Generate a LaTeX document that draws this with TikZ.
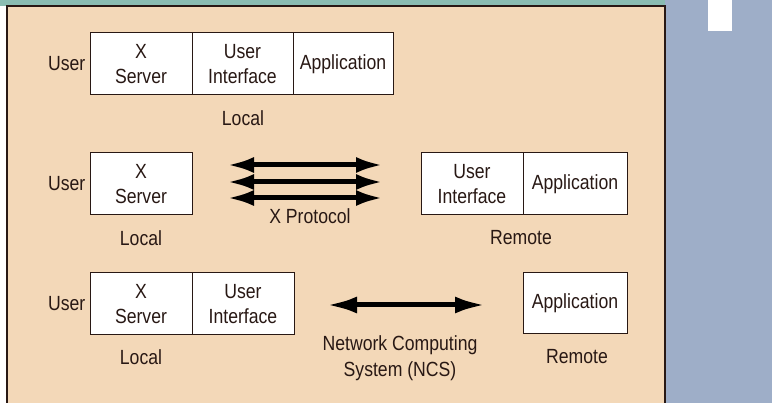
\documentclass[tikz,border=0pt]{standalone}
\usepackage{fontspec}
\setmainfont[FakeStretch=0.86]{Liberation Sans}
\usetikzlibrary{arrows.meta}
\definecolor{peche}{RGB}{243,216,184}
\definecolor{bleu}{RGB}{158,174,200}
\definecolor{vert}{RGB}{138,188,178}
\definecolor{encre}{RGB}{40,24,20}
\begin{document}
\begin{tikzpicture}[x=1pt,y=-1pt,font=\fontsize{20.5}{25.5}\selectfont,text=encre]
        \useasboundingbox (0,0) rectangle (772,403);
        % fond
        \fill[vert] (0,0) rectangle (665,6);
        \fill[bleu] (665,0) rectangle (772,403);
        \fill[white] (708,0) rectangle (732,31);
        \fill[peche] (7,6) rectangle (665,403);
        \draw[encre,line width=1.2pt] (7,403) -- (7,6) -- (665,6) -- (665,403);
        \tikzset{boite/.style={draw=encre,fill=white,line width=1pt,align=center,
                minimum height=62pt,inner sep=0pt}}
        \tikzset{grosfleche/.style={{Latex[length=27pt,width=16pt]}-{Latex[length=27pt,width=16pt]},
                line width=5pt,black}}
        % local
        \node[boite,minimum width=102pt] (XS1) at (141,64) {X\\Server};
        \node[boite,minimum width=101pt] (UI1) at (242.5,64) {User\\Interface};
        \node[boite,minimum width=100pt] (A1) at (343,64) {Application};
        \node[anchor=east,inner sep=4pt] (U1) at (XS1.west) {User};
        \node (L1) at (243,118) {Local};
        % X protocol
        \node[boite,minimum width=102pt] (XS2) at (141,184) {X\\Server};
        \node[anchor=east,inner sep=4pt] (U2) at (XS2.west) {User};
        \node (L2) at (141,238) {Local};
        \node[boite,minimum width=102pt] (UI2) at (472,184) {User\\Interface};
        \node[boite,minimum width=104pt] (A2) at (575,184) {Application};
        \node (R2) at (521,238) {Remote};
        \coordinate (P1g) at (227,165);
        \coordinate (P1d) at (383,165);
        \coordinate (P2g) at (227,182);
        \coordinate (P2d) at (383,182);
        \coordinate (P3g) at (227,198);
        \coordinate (P3d) at (383,198);
        \draw[grosfleche] (P1g) -- (P1d);
        \draw[grosfleche] (P2g) -- (P2d);
        \draw[grosfleche] (P3g) -- (P3d);
        \node (XP) at (310,216) {X Protocol};
        % NCS
        \node[boite,minimum width=102pt] (XS3) at (141,304) {X\\Server};
        \node[boite,minimum width=102pt] (UI3) at (243,304) {User\\Interface};
        \node[anchor=east,inner sep=4pt] (U3) at (XS3.west) {User};
        \node (L3) at (141,357) {Local};
        \node[boite,minimum width=104pt,minimum height=61pt] (A3) at (575,303) {Application};
        \node (R3) at (577,357) {Remote};
        \coordinate (Ng) at (327,305);
        \coordinate (Nd) at (485,305);
        \draw[grosfleche,{Latex[length=30pt,width=17pt]}-{Latex[length=30pt,width=17pt]}] (Ng) -- (Nd);
        \node[align=center] (NCS) at (400,358) {Network Computing\\System (NCS)};
\end{tikzpicture}
\end{document}
